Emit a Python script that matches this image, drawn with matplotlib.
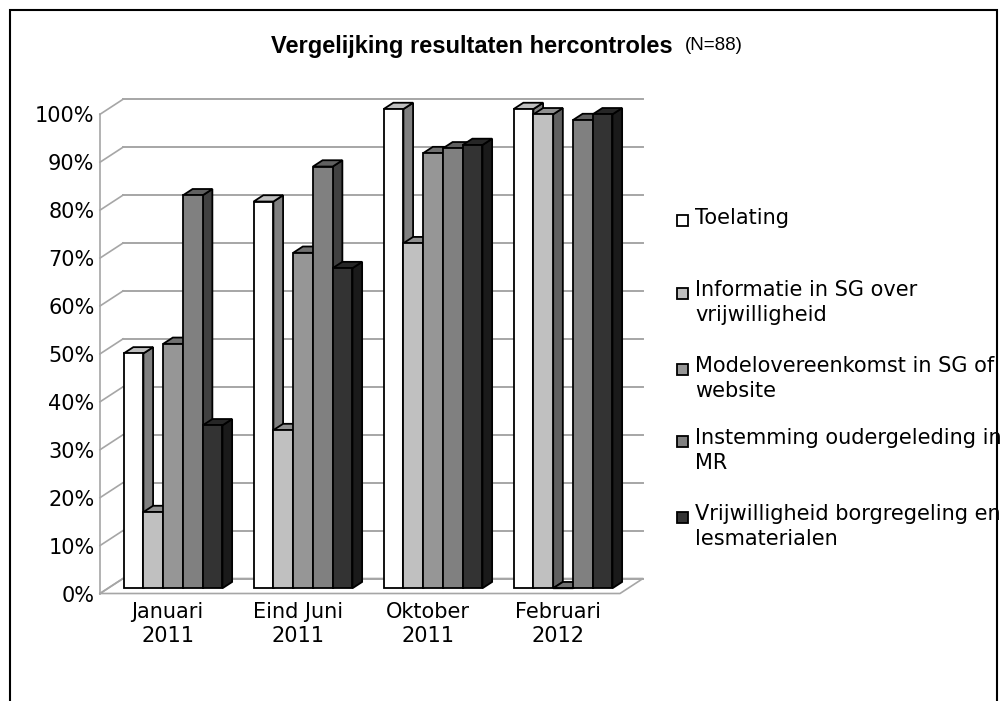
import matplotlib.pyplot as plt
from matplotlib.patches import Polygon, Rectangle
import numpy as np

categories = ["Januari\n2011", "Eind Juni\n2011", "Oktober\n2011", "Februari\n2012"]
series = ["Toelating",
          "Informatie in SG over\nvrijwilligheid",
          "Modelovereenkomst in SG of\nwebsite",
          "Instemming oudergeleding in\nMR",
          "Vrijwilligheid borgregeling en\nlesmaterialen"]
toelating = [49, 80.7, 100, 100]
informatie = [15.9, 33, 72, 98.9]
modelovereenkomst = [51, 70, 90.8, 0]
instemming = [82, 88, 91.8, 97.7]
vrijwilligheid = [34, 66.8, 92.5, 98.9]
values = [toelating, informatie, modelovereenkomst, instemming, vrijwilligheid]
front_colors = ["#ffffff", "#c0c0c0", "#969696", "#808080", "#333333"]
yticks = list(range(0, 101, 10))

W, H = 1007, 701
fig = plt.figure(figsize=(W / 100, H / 100), dpi=100)
ax = fig.add_axes([100 / W, (H - 593.5) / H, 520 / W, (593.5 - 114.3) / H])
ax.set_xlim(0, 4)
ax.set_ylim(0, 100)
for s in ax.spines.values():
    s.set_visible(False)
ax.set_facecolor("none")

# oblique depth of the whole plot (data units)
DX, DY = 0.177, 3.13
f0, f1 = 0.35, 0.77
grid_col = "#a6a6a6"


def shade(c, k):
    r, g, b = [int(c[i:i + 2], 16) for i in (1, 3, 5)]
    return (r * k / 255, g * k / 255, b * k / 255)


# back wall gridlines + left wall diagonals
for v in yticks:
    ax.plot([DX, 4 + DX], [v + DY, v + DY], color=grid_col, lw=1.4, clip_on=False, zorder=1)
    ax.plot([0, DX], [v, v + DY], color=grid_col, lw=1.2, clip_on=False, zorder=1)
ax.plot([0, 0], [0, 100], color=grid_col, lw=1.2, clip_on=False, zorder=1)
# floor
ax.plot([0, 4, 4 + DX, DX, 0], [0, 0, DY, DY, 0], color=grid_col, lw=1.2, clip_on=False, zorder=1)

bw = 0.152
n = len(series)
for i in range(len(categories)):
    for j in range(n):
        v = values[j][i]
        c = front_colors[j]
        x0 = i + 0.5 + (j - n / 2) * bw + f0 * DX
        y0 = f0 * DY
        ddx = (f1 - f0) * DX
        ddy = (f1 - f0) * DY
        x1 = x0 + bw
        z = 3 + i * 10 + j
        side = Polygon([(x1, y0), (x1 + ddx, y0 + ddy), (x1 + ddx, y0 + ddy + v), (x1, y0 + v)],
                       closed=True, fc=shade(c, 0.5), ec="black", lw=1.3, clip_on=False, zorder=z,
                       joinstyle="miter")
        top = Polygon([(x0, y0 + v), (x1, y0 + v), (x1 + ddx, y0 + ddy + v), (x0 + ddx, y0 + ddy + v)],
                      closed=True, fc=shade(c, 0.75), ec="black", lw=1.3, clip_on=False, zorder=z,
                      joinstyle="miter")
        front = Rectangle((x0, y0), bw, v, fc=c, ec="black", lw=1.3, clip_on=False, zorder=z,
                          joinstyle="miter")
        ax.add_patch(side)
        ax.add_patch(top)
        ax.add_patch(front)

ax.set_yticks(yticks)
ax.set_yticklabels(["%d%%" % t for t in yticks], fontsize=15, family="DejaVu Sans")
ax.set_xticks(np.arange(len(categories)) + 0.52)
ax.set_xticklabels(categories, fontsize=15, family="DejaVu Sans", linespacing=1.27)
ax.tick_params(axis="y", length=0, pad=4)
ax.tick_params(axis="x", length=0, pad=6)

# title
fig.text(673 / W, 1 - 46 / H, "Vergelijking resultaten hercontroles", ha="right", va="center",
         fontsize=17, fontweight="bold", family="Liberation Sans")
fig.text(685 / W, 1 - 46 / H, "(N=88)", ha="left", va="center", fontsize=13.5,
         family="Liberation Sans")

# legend
leg_y = [220, 293, 369, 441, 517]
for k in range(n):
    yc = leg_y[k]
    fig.add_artist(Rectangle((677 / W, 1 - (yc + 5.5) / H), 11 / W, 11 / H, transform=fig.transFigure,
                             fc=front_colors[k], ec="black", lw=1.3))
    fig.text(695 / W, 1 - (yc - 12.5) / H, series[k], ha="left", va="top", fontsize=15,
             family="DejaVu Sans", linespacing=1.27)

# outer border
fig.add_artist(Rectangle((9.5 / W, -0.05), (997 - 9.5) / W, 1.05 - 10 / H, transform=fig.transFigure,
                         fill=False, ec="black", lw=1.5))

fig.savefig("out.png", dpi=100)
